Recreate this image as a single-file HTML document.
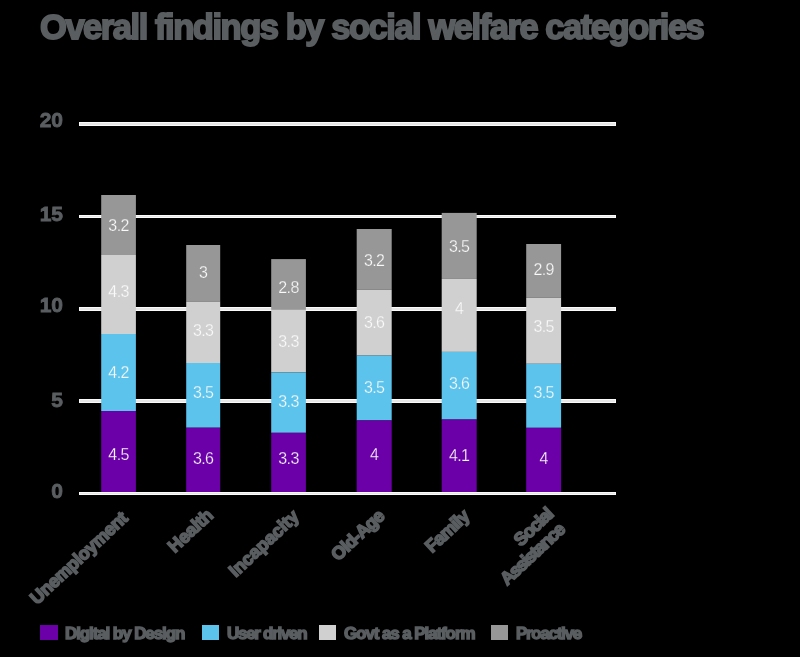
<!DOCTYPE html>
<html><head><meta charset="utf-8"><style>
html,body{margin:0;padding:0;background:#000;width:800px;height:657px;overflow:hidden}
svg{position:absolute;left:0;top:0;will-change:transform}
text{font-family:"Liberation Sans",sans-serif}
.t{font-weight:bold;font-size:34.5px;fill:#5a5e61;stroke:#5a5e61;stroke-width:1.8px;letter-spacing:-1.45px}
.v{font-size:16px;fill:#fafafa;letter-spacing:-0.6px}
.ax{font-weight:bold;font-size:21px;fill:#5a5e61;stroke:#5a5e61;stroke-width:0.8px}
.xl{font-weight:bold;font-size:18px;fill:#5a5e61;stroke:#5a5e61;stroke-width:1.6px;letter-spacing:-0.2px}
.lg{font-weight:bold;font-size:17px;fill:#5a5e61;stroke:#5a5e61;stroke-width:1.4px;letter-spacing:-1.3px}
</style></head><body>
<svg width="800" height="657" viewBox="0 0 800 657">
<text x="40" y="38.6" class="t">Overall findings by social welfare categories</text>
<rect x="79" y="122" width="537" height="4" fill="#fafafa" shape-rendering="crispEdges"/><rect x="80" y="123" width="535" height="2" fill="#e7e7e7" shape-rendering="crispEdges"/>
<rect x="79" y="215" width="537" height="3" fill="#fafafa" shape-rendering="crispEdges"/><rect x="80" y="216" width="535" height="1" fill="#e7e7e7" shape-rendering="crispEdges"/>
<rect x="79" y="307" width="537" height="4" fill="#fafafa" shape-rendering="crispEdges"/><rect x="80" y="308" width="535" height="2" fill="#e7e7e7" shape-rendering="crispEdges"/>
<rect x="79" y="399" width="537" height="4" fill="#fafafa" shape-rendering="crispEdges"/><rect x="80" y="400" width="535" height="2" fill="#e7e7e7" shape-rendering="crispEdges"/>
<rect x="101.2" y="195.0" width="34.7" height="60.0" fill="#979797"/>
<rect x="101.2" y="255.0" width="34.7" height="79.0" fill="#d0d0d0"/>
<rect x="101.2" y="334.0" width="34.7" height="77.0" fill="#5bc3ec"/>
<rect x="101.2" y="411.0" width="34.7" height="82.5" fill="#6b00a9"/>
<rect x="186.2" y="245.0" width="34.0" height="56.5" fill="#979797"/>
<rect x="186.2" y="301.5" width="34.0" height="61.5" fill="#d0d0d0"/>
<rect x="186.2" y="363.0" width="34.0" height="64.7" fill="#5bc3ec"/>
<rect x="186.2" y="427.7" width="34.0" height="65.8" fill="#6b00a9"/>
<rect x="271.2" y="259.1" width="34.7" height="50.8" fill="#979797"/>
<rect x="271.2" y="309.9" width="34.7" height="62.6" fill="#d0d0d0"/>
<rect x="271.2" y="372.5" width="34.7" height="60.3" fill="#5bc3ec"/>
<rect x="271.2" y="432.8" width="34.7" height="60.7" fill="#6b00a9"/>
<rect x="356.7" y="229.0" width="35.0" height="60.7" fill="#979797"/>
<rect x="356.7" y="289.7" width="35.0" height="65.9" fill="#d0d0d0"/>
<rect x="356.7" y="355.6" width="35.0" height="64.8" fill="#5bc3ec"/>
<rect x="356.7" y="420.4" width="35.0" height="73.1" fill="#6b00a9"/>
<rect x="441.7" y="212.9" width="35.0" height="66.0" fill="#979797"/>
<rect x="441.7" y="278.9" width="35.0" height="73.0" fill="#d0d0d0"/>
<rect x="441.7" y="351.9" width="35.0" height="67.6" fill="#5bc3ec"/>
<rect x="441.7" y="419.5" width="35.0" height="74.0" fill="#6b00a9"/>
<rect x="526.2" y="244.0" width="34.9" height="53.7" fill="#979797"/>
<rect x="526.2" y="297.7" width="34.9" height="66.1" fill="#d0d0d0"/>
<rect x="526.2" y="363.8" width="34.9" height="64.0" fill="#5bc3ec"/>
<rect x="526.2" y="427.8" width="34.9" height="65.7" fill="#6b00a9"/>
<rect x="79" y="492" width="537" height="3" fill="#fafafa" shape-rendering="crispEdges"/><rect x="80" y="493" width="535" height="1" fill="#e7e7e7" shape-rendering="crispEdges"/>
<text x="118.6" y="230.8" text-anchor="middle" class="v" stroke="#979797" stroke-width="0.25">3.2</text>
<text x="118.6" y="296.6" text-anchor="middle" class="v" stroke="#d0d0d0" stroke-width="0.25">4.3</text>
<text x="118.6" y="377.5" text-anchor="middle" class="v" stroke="#5bc3ec" stroke-width="0.25">4.2</text>
<text x="118.6" y="459.5" text-anchor="middle" class="v" stroke="#6b00a9" stroke-width="0.25">4.5</text>
<text x="203.2" y="277.9" text-anchor="middle" class="v" stroke="#979797" stroke-width="0.25">3</text>
<text x="203.2" y="336.3" text-anchor="middle" class="v" stroke="#d0d0d0" stroke-width="0.25">3.3</text>
<text x="203.2" y="397.9" text-anchor="middle" class="v" stroke="#5bc3ec" stroke-width="0.25">3.5</text>
<text x="203.2" y="463.6" text-anchor="middle" class="v" stroke="#6b00a9" stroke-width="0.25">3.6</text>
<text x="288.5" y="292.7" text-anchor="middle" class="v" stroke="#979797" stroke-width="0.25">2.8</text>
<text x="288.5" y="347.0" text-anchor="middle" class="v" stroke="#d0d0d0" stroke-width="0.25">3.3</text>
<text x="288.5" y="407.1" text-anchor="middle" class="v" stroke="#5bc3ec" stroke-width="0.25">3.3</text>
<text x="288.5" y="463.5" text-anchor="middle" class="v" stroke="#6b00a9" stroke-width="0.25">3.3</text>
<text x="374.2" y="266.0" text-anchor="middle" class="v" stroke="#979797" stroke-width="0.25">3.2</text>
<text x="374.2" y="327.9" text-anchor="middle" class="v" stroke="#d0d0d0" stroke-width="0.25">3.6</text>
<text x="374.2" y="392.6" text-anchor="middle" class="v" stroke="#5bc3ec" stroke-width="0.25">3.5</text>
<text x="374.2" y="459.8" text-anchor="middle" class="v" stroke="#6b00a9" stroke-width="0.25">4</text>
<text x="459.2" y="251.5" text-anchor="middle" class="v" stroke="#979797" stroke-width="0.25">3.5</text>
<text x="459.2" y="314.2" text-anchor="middle" class="v" stroke="#d0d0d0" stroke-width="0.25">4</text>
<text x="459.2" y="388.9" text-anchor="middle" class="v" stroke="#5bc3ec" stroke-width="0.25">3.6</text>
<text x="459.2" y="460.8" text-anchor="middle" class="v" stroke="#6b00a9" stroke-width="0.25">4.1</text>
<text x="543.7" y="274.9" text-anchor="middle" class="v" stroke="#979797" stroke-width="0.25">2.9</text>
<text x="543.7" y="332.2" text-anchor="middle" class="v" stroke="#d0d0d0" stroke-width="0.25">3.5</text>
<text x="543.7" y="398.0" text-anchor="middle" class="v" stroke="#5bc3ec" stroke-width="0.25">3.5</text>
<text x="543.7" y="463.6" text-anchor="middle" class="v" stroke="#6b00a9" stroke-width="0.25">4</text>
<text x="63" y="127.0" text-anchor="end" class="ax">20</text>
<text x="63" y="220.5" text-anchor="end" class="ax">15</text>
<text x="63" y="312.2" text-anchor="end" class="ax">10</text>
<text x="63" y="406.5" text-anchor="end" class="ax">5</text>
<text x="63" y="498.0" text-anchor="end" class="ax">0</text>
<text transform="translate(120.5,511) rotate(-43)" text-anchor="end" class="xl" style="letter-spacing:-0.4px"><tspan x="0" y="12">Unemployment</tspan></text>
<text transform="translate(206,508) rotate(-43)" text-anchor="end" class="xl" style="letter-spacing:-0.2px"><tspan x="0" y="12">Health</tspan></text>
<text transform="translate(292,509) rotate(-43)" text-anchor="end" class="xl" style="letter-spacing:0.0px"><tspan x="0" y="12">Incapacity</tspan></text>
<text transform="translate(377,509) rotate(-43)" text-anchor="end" class="xl" style="letter-spacing:-0.8px"><tspan x="0" y="12">Old-Age</tspan></text>
<text transform="translate(462,509) rotate(-43)" text-anchor="end" class="xl" style="letter-spacing:-0.8px"><tspan x="0" y="12">Family</tspan></text>
<text transform="translate(556,508) rotate(-43)" text-anchor="end" class="xl"><tspan x="-7" y="4.5" style="letter-spacing:-1.3px">Social</tspan><tspan x="-9" y="23.7" style="letter-spacing:-1.5px">Assistance</tspan></text>
<rect x="40" y="625" width="18" height="15" fill="#6b00a9"/>
<text x="65" y="639" class="lg" style="letter-spacing:-1.1px">Digital by Design</text>
<rect x="202" y="625" width="17" height="15" fill="#5bc3ec"/>
<text x="227" y="639" class="lg">User driven</text>
<rect x="319" y="625" width="17" height="15" fill="#d0d0d0"/>
<text x="344" y="639" class="lg" style="letter-spacing:-1.1px">Govt as a Platform</text>
<rect x="491" y="625" width="17" height="15" fill="#979797"/>
<text x="516" y="639" class="lg">Proactive</text>
</svg>
</body></html>
